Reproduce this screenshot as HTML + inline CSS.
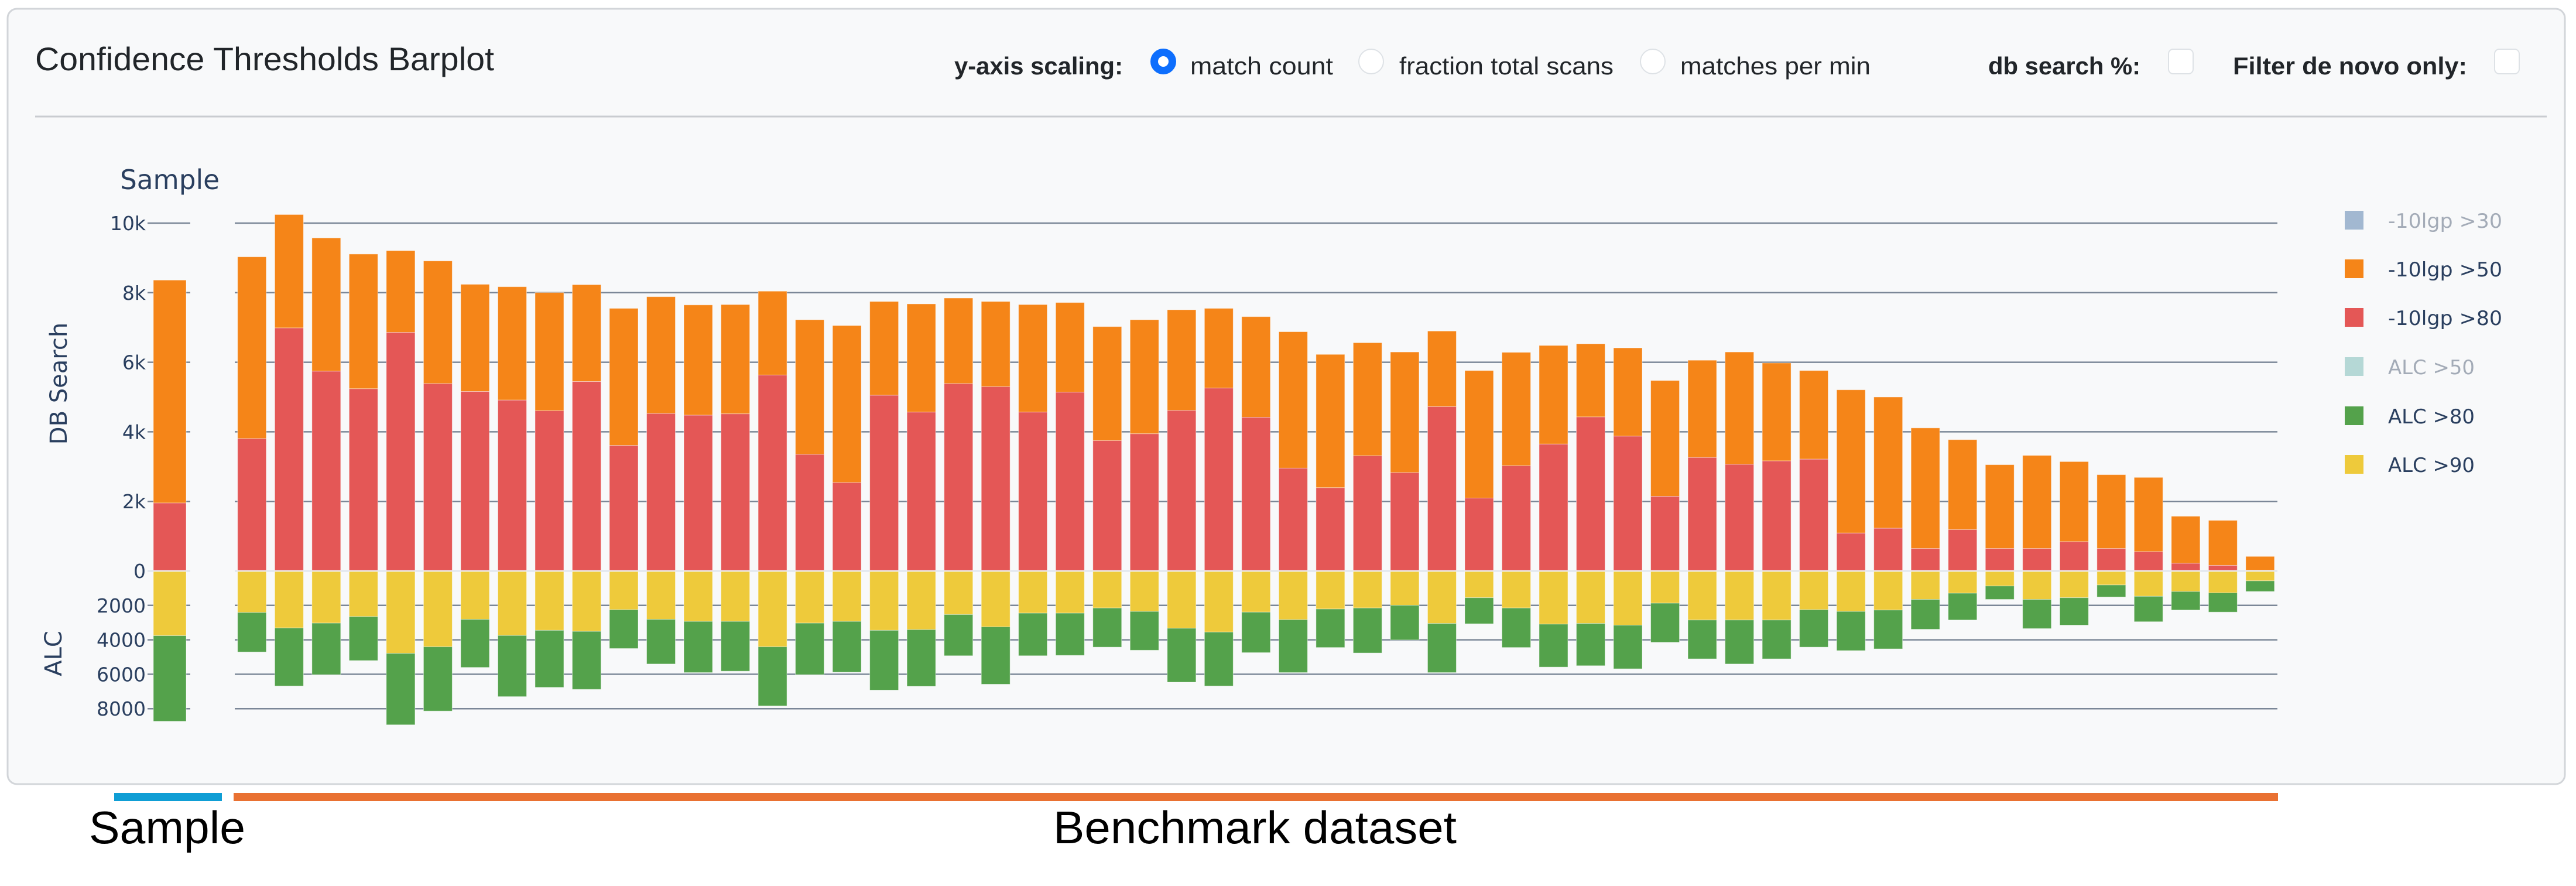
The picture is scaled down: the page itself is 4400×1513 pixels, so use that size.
<!DOCTYPE html>
<html>
<head>
<meta charset="utf-8">
<style>
  html,body{margin:0;padding:0;background:#ffffff;}
  body{width:4400px;height:1513px;overflow:hidden;}
  svg{display:block;}
  .ui{font-family:"Liberation Sans", Arial, sans-serif;}
  .pl{font-family:"DejaVu Sans", Verdana, sans-serif;}
</style>
</head>
<body>
<svg id="s" width="4400" height="1513" viewBox="0 0 4400 1513" xmlns="http://www.w3.org/2000/svg">
  <rect x="0" y="0" width="4400" height="1513" fill="#ffffff"/>
  <!-- panel -->
  <rect x="13" y="15" width="4368" height="1324" rx="16" ry="16" fill="#f8f9fa" stroke="#d2d5d9" stroke-width="3"/>
  <!-- title -->
  <text class="ui" x="60" y="120" font-size="56" fill="#212529" textLength="784" lengthAdjust="spacingAndGlyphs">Confidence Thresholds Barplot</text>
  <!-- controls -->
  <text class="ui" x="1630" y="127" font-size="42" font-weight="bold" fill="#212529" textLength="288" lengthAdjust="spacingAndGlyphs">y-axis scaling:</text>
  <circle cx="1987" cy="105" r="21" fill="#0d6efd" stroke="#0d6efd" stroke-width="2"/>
  <circle cx="1987" cy="105" r="9" fill="#ffffff"/>
  <text class="ui" x="2033" y="127" font-size="42" fill="#212529" textLength="244" lengthAdjust="spacingAndGlyphs">match count</text>
  <circle cx="2342" cy="105" r="21" fill="#ffffff" stroke="#dee2e6" stroke-width="2"/>
  <text class="ui" x="2390" y="127" font-size="42" fill="#212529" textLength="366" lengthAdjust="spacingAndGlyphs">fraction total scans</text>
  <circle cx="2823" cy="105" r="21" fill="#ffffff" stroke="#dee2e6" stroke-width="2"/>
  <text class="ui" x="2870" y="127" font-size="42" fill="#212529" textLength="325" lengthAdjust="spacingAndGlyphs">matches per min</text>
  <text class="ui" x="3396" y="127" font-size="42" font-weight="bold" fill="#212529" textLength="260" lengthAdjust="spacingAndGlyphs">db search %:</text>
  <rect x="3704" y="84" width="42" height="42" rx="8" fill="#ffffff" stroke="#dee2e6" stroke-width="2"/>
  <text class="ui" x="3814" y="127" font-size="42" font-weight="bold" fill="#212529" textLength="400" lengthAdjust="spacingAndGlyphs">Filter de novo only:</text>
  <rect x="4261" y="84" width="42" height="42" rx="8" fill="#ffffff" stroke="#dee2e6" stroke-width="2"/>
  <!-- separator -->
  <line x1="60" y1="199" x2="4350" y2="199" stroke="#c9ccd0" stroke-width="3"/>

  <!-- subplot title -->
  <text class="pl" x="205" y="323" font-size="46" fill="#2a3f5f" textLength="170" lengthAdjust="spacingAndGlyphs">Sample</text>

  <!-- axis titles -->
  <text class="pl" x="114" y="655" font-size="40" fill="#2a3f5f" text-anchor="middle" transform="rotate(-90 114 655)">DB Search</text>
  <text class="pl" x="105" y="1116" font-size="40" fill="#2a3f5f" text-anchor="middle" transform="rotate(-90 105 1116)">ALC</text>

  <g id="grid"></g>
  <g id="bars"></g>
  <g id="ticks"></g>

  <!-- legend -->
  <g class="pl" font-size="34">
    <rect x="4005" y="360" width="32" height="32" fill="#a2b8d1"/>
    <text x="4079" y="389" fill="#a3abb7" textLength="195" lengthAdjust="spacingAndGlyphs">-10lgp &gt;30</text>
    <rect x="4005" y="443" width="32" height="32" fill="#f58518"/>
    <text x="4079" y="472" fill="#2a3f5f" textLength="195" lengthAdjust="spacingAndGlyphs">-10lgp &gt;50</text>
    <rect x="4005" y="526" width="32" height="32" fill="#e45756"/>
    <text x="4079" y="555" fill="#2a3f5f" textLength="195" lengthAdjust="spacingAndGlyphs">-10lgp &gt;80</text>
    <rect x="4005" y="610" width="32" height="32" fill="#b5d8d6"/>
    <text x="4079" y="639" fill="#a3abb7" textLength="148" lengthAdjust="spacingAndGlyphs">ALC &gt;50</text>
    <rect x="4005" y="694" width="32" height="32" fill="#54a24b"/>
    <text x="4079" y="723" fill="#2a3f5f" textLength="148" lengthAdjust="spacingAndGlyphs">ALC &gt;80</text>
    <rect x="4005" y="777" width="32" height="32" fill="#eeca3b"/>
    <text x="4079" y="806" fill="#2a3f5f" textLength="148" lengthAdjust="spacingAndGlyphs">ALC &gt;90</text>
  </g>

  <!-- annotations below panel -->
  <rect x="195" y="1354" width="184" height="14" fill="#0f9ed5"/>
  <rect x="399" y="1354" width="3492" height="14" fill="#e97132"/>
  <text class="ui" x="152" y="1440" font-size="78" fill="#000000" textLength="267" lengthAdjust="spacingAndGlyphs">Sample</text>
  <text class="ui" x="1799" y="1440" font-size="78" fill="#000000" textLength="689" lengthAdjust="spacingAndGlyphs">Benchmark dataset</text>
</svg>
<script>
(function(){
  var NS="http://www.w3.org/2000/svg";
  function el(parent, tag, attrs, txt){
    var e=document.createElementNS(NS,tag);
    for(var k in attrs){e.setAttribute(k,attrs[k]);}
    if(txt!==undefined){e.textContent=txt;}
    parent.appendChild(e);
    return e;
  }
  var grid=document.getElementById('grid');
  var bars=document.getElementById('bars');
  var ticks=document.getElementById('ticks');
  var ZERO=975;
  var dbTicks=[[381,'10k'],[499.8,'8k'],[618.6,'6k'],[737.4,'4k'],[856.2,'2k']];
  var alcTicks=[[1033.8,'2000'],[1092.6,'4000'],[1151.4,'6000'],[1210.2,'8000']];
  var all=dbTicks.concat(alcTicks);
  var gc="#7b8797";
  all.forEach(function(t){
    el(grid,'line',{x1:252,y1:t[0],x2:325,y2:t[0],stroke:gc,'stroke-width':2.5});
    el(grid,'line',{x1:401,y1:t[0],x2:3890,y2:t[0],stroke:gc,'stroke-width':2.5});
    el(ticks,'text',{x:249,y:t[0]+12,'font-size':33,fill:'#2a3f5f','text-anchor':'end','class':'pl'},t[1]);
  });
  el(grid,'line',{x1:252,y1:ZERO,x2:325,y2:ZERO,stroke:'#e3e8ef','stroke-width':3.5});
  el(grid,'line',{x1:401,y1:ZERO,x2:3890,y2:ZERO,stroke:'#e3e8ef','stroke-width':3.5});
  el(ticks,'text',{x:249,y:ZERO+12,'font-size':33,fill:'#2a3f5f','text-anchor':'end','class':'pl'},'0');

  var C={o:'#f58518',r:'#e45756',y:'#eeca3b',g:'#54a24b'};
  function seg(x,y1,w,y2,c){
    var h=y2-y1; if(h<0.6) return;
    el(bars,'rect',{x:x,y:y1,width:w,height:h,fill:c,stroke:'rgba(255,255,255,0.45)','stroke-width':1});
  }
  function bar(x,w,o,r,y,g){
    seg(x,o,w,r,C.o);
    seg(x,r,w,974,C.r);
    seg(x,976,w,y,C.y);
    seg(x,y,w,g,C.g);
  }
  // sample bar
  bar(262,56,478.3,859,1085.5,1231.7);

  var D=[
  [168,697,1203,1318],[45,375,1248,1417],[113,501,1234,1384],[160,552,1215,1343],
  [150,388,1322,1530],[180,537,1303,1490],[248,560,1223,1363],[255,585,1270,1448],
  [272,616,1255,1421],[249,531,1258,1427],[318,717,1195,1308],[284,624,1223,1353],
  [308,629,1229,1378],[307,625,1229,1374],[268,512,1303,1475],[351,743,1234,1384],
  [368,825,1229,1377],[298,571,1255,1429],[305,620,1253,1418],[288,537,1209,1329],
  [298,546,1245,1412],[307,620,1205,1329],[301,562,1205,1328],[371,703,1190,1304],
  [351,683,1200,1313],[322,615,1249,1406],[318,550,1260,1417],[342,635,1202,1320],
  [386,783,1224,1378],[452,840,1193,1305],[418,747,1190,1321],[445,796,1182,1283],
  [384,604,1235,1378],[499,870,1160,1236],[446,776,1190,1305],[426,713,1237,1362],
  [421,634,1235,1358],[433,690,1240,1367],[528,865,1176,1290],[469,752,1225,1338],
  [445,772,1225,1353],[477,762,1225,1338],[499,757,1195,1304],[555,972,1200,1314],
  [576,958,1196,1309],[666,1017,1165,1252],[700,962,1147,1225],[773,1017,1126,1165],
  [746,1017,1165,1250],[764,997,1160,1240],[802,1017,1123,1158],[810,1026,1156,1230],
  [923,1060,1142,1196],[935,1066,1146,1202],[1040,1080,1111,1142]
  ];
  function Z(v){return 340+v/1.7043;}
  for(var i=0;i<D.length;i++){
    var d=D[i];
    var x=405.8+i*63.52;
    bar(x,49,Z(d[0]),Z(d[1]),Z(d[2]),Z(d[3]));
  }
})();
</script>
</body>
</html>
